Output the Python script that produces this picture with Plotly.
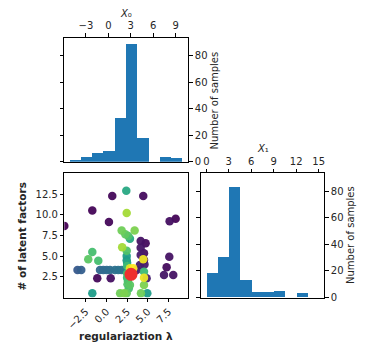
import plotly.graph_objects as go

# ---------------- data ----------------
x0_bin_edges = [-5.15, -3.64, -2.13, -0.62, 0.89, 2.40, 3.91, 5.42, 6.93, 8.44, 9.95]
x0_counts = [1, 4, 7, 8, 33, 89, 18, 0, 4, 3]

x1_bin_edges = [0.0, 1.5, 3.0, 4.5, 6.0, 7.5, 9.0, 10.5, 12.0, 13.5, 15.0]
x1_counts = [18, 30, 83, 13, 4, 4, 5, 0, 3, 0]

# evaluations: regularization (x), latent factors (y), evaluation order (0..1)
eval_x = [-5.1, -1.71, 0.70, 4.45, 0.30, 7.64, 8.37, 4.14, 4.74, 4.14, 4.54, 4.14, 7.60, 4.54,
          4.05, 4.60, 7.28, 3.65, -1.11, 0.51, 6.96, 8.08, 4.86,
          -3.50, -3.05, -0.78, -0.38, 0.03, 0.43, 1.03, 1.43, 1.84, 2.24, 2.60,
          2.40, -1.71, 4.94, 2.84, 2.45, 2.45, 2.50,
          1.84, 3.41, 2.28, 2.64, 2.45, -1.71, -2.20, -0.99, 2.50, 2.50, 2.50, 2.60, 2.55,
          2.84, 2.70, 1.65, 2.15, 2.45, 4.17, 4.54, 4.54,
          2.45, 1.90,
          4.45, 2.84, 3.24, 4.54, 3.00]
eval_y = [8.65, 10.5, 12.27, 12.27, 9.13, 9.2, 9.5, 6.83, 6.55, 6.02, 5.34, 5.14, 4.93, 4.53,
          3.93, 4.00, 3.65, 3.32, 2.32, 2.32, 2.72, 2.72, 2.32,
          3.32, 3.32, 3.32, 3.32, 3.32, 3.32, 3.32, 3.32, 3.32, 3.32, 3.32,
          12.9, 0.5, 0.5, 7.1, 5.0, 4.5, 4.2,
          8.08, 8.08, 7.64, 7.44, 5.66, 5.5, 4.62, 4.45, 3.8, 2.9, 2.4, 2.0, 1.6,
          1.5, 1.1, 0.5, 0.5, 0.5, 0.5, 1.51, 3.12,
          10.2, 6.07,
          4.62, 3.53, 3.53, 2.4, 3.2]
eval_order = [0.00, 0.01, 0.02, 0.03, 0.02, 0.04, 0.01, 0.05, 0.03, 0.06, 0.04, 0.07, 0.05, 0.06,
              0.08, 0.07, 0.03, 0.08, 0.02, 0.04, 0.06, 0.05, 0.09,
              0.28, 0.30, 0.33, 0.34, 0.35, 0.36, 0.37, 0.38, 0.39, 0.40, 0.41,
              0.60, 0.55, 0.55, 0.60, 0.55, 0.52, 0.58,
              0.78, 0.80, 0.75, 0.72, 0.72, 0.70, 0.74, 0.70, 0.68, 0.70, 0.66, 0.70, 0.72,
              0.74, 0.70, 0.78, 0.80, 0.76, 0.78, 0.80, 0.68,
              0.86, 0.86,
              0.98, 0.96, 1.00, 0.97, 0.95]

best_x = [2.97]
best_y = [2.8]

x0_ticks = [-3, 0, 3, 6, 9]
x0_ticktext = ["\u22123", "0", "3", "6", "9"]
x1_ticks = [0, 3, 6, 9, 12, 15]
count_ticks = [0, 20, 40, 60, 80]
lam_ticks = [-2.5, 0.0, 2.5, 5.0, 7.5]
lam_ticktext = ["\u22122.5", "0.0", "2.5", "5.0", "7.5"]
lf_ticks = [2.5, 5.0, 7.5, 10.0, 12.5]
lf_ticktext = ["2.5", "5.0", "7.5", "10.0", "12.5"]

# ---------------- figure ----------------
OFF = 8                      # default page body margin
W, H = 388 - OFF, 358 - OFF  # figure size so the page fits the window
BAR = "#1f77b4"
FONT = "DejaVu Sans"
TXT = "#262626"


def centers(edges):
    return [(edges[i] + edges[i + 1]) / 2 for i in range(len(edges) - 1)]


def widths(edges):
    return [edges[i + 1] - edges[i] for i in range(len(edges) - 1)]


order_idx = sorted(range(len(eval_order)), key=lambda i: eval_order[i])

fig = go.Figure()
fig.add_trace(go.Bar(x=centers(x0_bin_edges), y=x0_counts, width=widths(x0_bin_edges),
                     marker=dict(color=BAR, line=dict(width=0)), xaxis="x", yaxis="y",
                     showlegend=False))
fig.add_trace(go.Scatter(x=[eval_x[i] for i in order_idx], y=[eval_y[i] for i in order_idx],
                         mode="markers", xaxis="x2", yaxis="y2", showlegend=False,
                         marker=dict(size=8.5, color=[eval_order[i] for i in order_idx],
                                     colorscale="Viridis", cmin=0, cmax=1,
                                     line=dict(width=0), opacity=0.95)))
fig.add_trace(go.Scatter(x=best_x, y=best_y, mode="markers", xaxis="x2", yaxis="y2",
                         showlegend=False,
                         marker=dict(size=13, color="#ee3030", line=dict(width=0))))
fig.add_trace(go.Bar(x=centers(x1_bin_edges), y=x1_counts, width=widths(x1_bin_edges),
                     marker=dict(color=BAR, line=dict(width=0)), xaxis="x3", yaxis="y3",
                     showlegend=False))


def px_x(a, b):
    return [(a - OFF) / W, (b - OFF) / W]


def px_y(top, bottom):
    return [1 - (bottom - OFF) / H, 1 - (top - OFF) / H]


common = dict(showline=True, linecolor="black", linewidth=1, showgrid=False, zeroline=False,
              ticks="outside", ticklen=3.5, tickwidth=1, tickcolor="black", automargin=False,
              tickfont=dict(family=FONT, size=10, color=TXT))

fig.update_layout(
    width=W, height=H, margin=dict(l=0, r=0, t=0, b=0, pad=0),
    paper_bgcolor="white", plot_bgcolor="white", bargap=0,
    font=dict(family=FONT, size=10, color=TXT),
    xaxis=dict(common, domain=px_x(64.3, 188.3), range=[-5.9, 10.7], anchor="y", side="top",
               mirror=True, tickvals=x0_ticks, ticktext=x0_ticktext),
    yaxis=dict(common, domain=px_y(37.7, 161.7), range=[0, 93.5], anchor="x", side="right",
               mirror="ticks", tickvals=count_ticks),
    xaxis2=dict(common, domain=px_x(64.3, 188.3), range=[-5.1, 9.9], anchor="y2", mirror=True,
                tickvals=lam_ticks, ticktext=lam_ticktext, tickangle=-45),
    yaxis2=dict(common, domain=px_y(173.3, 297.5), range=[0, 15], anchor="x2", mirror=True,
                tickvals=lf_ticks, ticktext=lf_ticktext),
    xaxis3=dict(common, domain=px_x(200.7, 324.3), range=[-0.75, 15.75], anchor="y3",
                side="top", mirror=True, tickvals=x1_ticks),
    yaxis3=dict(common, domain=px_y(173.3, 297.5), range=[0, 93.5], anchor="x3", side="right",
                mirror="ticks", tickvals=count_ticks),
)


def label(text, x, y, size=10, angle=0, yanchor="middle"):
    fig.add_annotation(text=text, x=(x - OFF) / W, y=1 - (y - OFF) / H, xref="paper",
                       yref="paper", xanchor="center", yanchor=yanchor, showarrow=False,
                       textangle=angle, borderpad=0,
                       font=dict(family=FONT, size=size, color=TXT))


label("<i>X</i>\u2080", 126.3, 20, yanchor="bottom")
label("Number of samples", 213.5, 100, angle=-90)
label("<i>X</i>\u2081", 262.5, 155, yanchor="bottom")
label("Number of samples", 350, 235, angle=-90)
label("<b>regulariaztion λ</b>", 126.3, 336, size=10.5)
label("<b># of latent factors</b>", 21.5, 237, size=10.5, angle=-90)

fig.write_html("out.html")
